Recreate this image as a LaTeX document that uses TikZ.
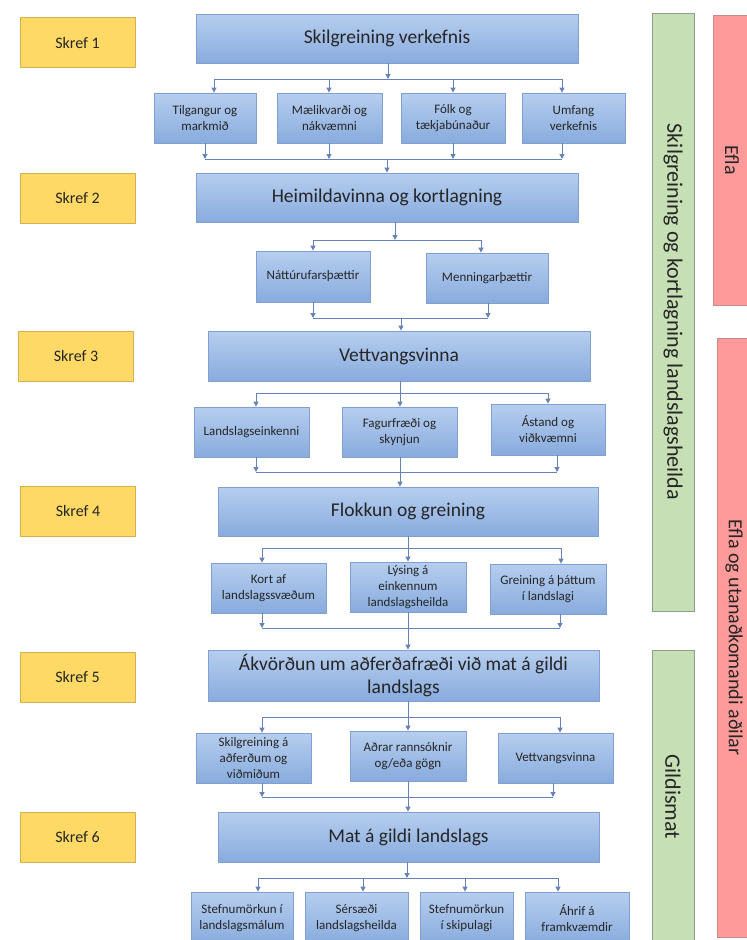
\documentclass[tikz,border=0pt]{standalone}
\usepackage{fontspec}
\setmainfont{Carlito}
\usepackage{xcolor}
\usepackage{tikz}
\usetikzlibrary{arrows.meta, positioning, calc}
\definecolor{skrefgold}{HTML}{FFD966}
\definecolor{skrefedge}{HTML}{D4B04E}
\definecolor{boxtop}{HTML}{B6CEEF}
\definecolor{boxbottom}{HTML}{88ABDD}
\definecolor{boxedge}{HTML}{7FA0D0}
\definecolor{flowblue}{HTML}{6683B8}
\definecolor{phasegreen}{HTML}{C6DFB4}
\definecolor{phaseedge}{HTML}{8F9C90}
\definecolor{partyred}{HTML}{FF9A9A}
\definecolor{partyedge}{HTML}{C48A8A}
\definecolor{inktext}{HTML}{262626}

\begin{document}
\begin{tikzpicture}[
    x=1pt, y=-1pt,
    every node/.style={text=inktext},
    stepbox/.style={
        rectangle,
        draw=skrefedge,
        fill=skrefgold,
        line width=0.8pt,
        minimum width=115pt,
        minimum height=50pt,
        font=\fontsize{16}{19}\selectfont
    },
    mainbox/.style={
        rectangle,
        draw=boxedge,
        top color=boxtop,
        bottom color=boxbottom,
        line width=0.8pt,
        inner sep=2pt,
        align=center,
        font=\fontsize{19.5}{23}\selectfont
    },
    subbox/.style={
        rectangle,
        draw=boxedge,
        top color=boxtop,
        bottom color=boxbottom,
        line width=0.8pt,
        inner sep=2pt,
        align=center,
        font=\fontsize{13}{16}\selectfont
    },
    phasebar/.style={
        rectangle,
        draw=phaseedge,
        fill=phasegreen,
        line width=0.8pt,
        rotate=-90,
        minimum height=42pt,
        font=\fontsize{22}{26}\selectfont
    },
    partybar/.style={
        rectangle,
        draw=partyedge,
        fill=partyred,
        line width=0.8pt,
        rotate=-90,
        font=\fontsize{20}{24}\selectfont
    },
    flow/.style={
        -{Triangle[length=5pt,width=5pt]},
        line width=1pt,
        draw=flowblue
    },
    link/.style={
        line width=1pt,
        draw=flowblue
    }
]

\fill[white] (0,0) rectangle (747,940);
\useasboundingbox (0,0) rectangle (747,940);

% Steps on the left
\node[stepbox] (k1) at (77.5,42.5) {Skref 1};
\node[stepbox] (k2) at (77.5,198) {Skref 2};
\node[stepbox] (k3) at (76,356) {Skref 3};
\node[stepbox] (k4) at (78,511) {Skref 4};
\node[stepbox] (k5) at (77.5,677) {Skref 5};
\node[stepbox] (k6) at (77.5,837) {Skref 6};

% Phase bars on the right
\node[phasebar, minimum width=598pt] (g1) at (673,312) {Skilgreining og kortlagning landslagsheilda};
\node[phasebar, minimum width=294pt] (g2) at (673,797) {Gildismat};
\node[partybar, minimum width=290pt, minimum height=38pt] (r1) at (732,160) {Efla};
\node[partybar, minimum width=599pt, minimum height=34pt] (r2) at (734,637.5) {Efla og utanaðkomandi aðilar};

% Main steps
\node[mainbox, minimum width=382pt, minimum height=49pt] (m1) at (387,38.5) {Skilgreining verkefnis};
\node[mainbox, minimum width=382pt, minimum height=49pt] (m2) at (387,197.5) {Heimildavinna og kortlagning};
\node[mainbox, minimum width=382pt, minimum height=50pt] (m3) at (399,356) {Vettvangsvinna};
\node[mainbox, minimum width=380pt, minimum height=49pt] (m4) at (408,511.5) {Flokkun og greining};
\node[mainbox, minimum width=391pt, minimum height=51pt] (m5) at (403.5,675.5) {Ákvörðun um aðferðafræði við mat á gildi\\landslags};
\node[mainbox, minimum width=381pt, minimum height=50pt] (m6) at (408.5,837) {Mat á gildi landslags};

% Sub boxes, step 1
\node[subbox, minimum width=102pt, minimum height=50pt] (s11) at (205,118) {Tilgangur og\\markmið};
\node[subbox, minimum width=105pt, minimum height=50pt] (s12) at (329.5,118) {Mælikvarði og\\nákvæmni};
\node[subbox, minimum width=104pt, minimum height=50pt] (s13) at (453,118) {Fólk og\\tækjabúnaður};
\node[subbox, minimum width=103pt, minimum height=50pt] (s14) at (573.5,118) {Umfang\\verkefnis};

% Sub boxes, step 2
\node[subbox, minimum width=114pt, minimum height=51pt] (s21) at (313,276.5) {Náttúrufarsþættir};
\node[subbox, minimum width=122pt, minimum height=50pt] (s22) at (487,278) {Menningarþættir};

% Sub boxes, step 3
\node[subbox, minimum width=115pt, minimum height=50pt] (s31) at (251.5,432) {Landslagseinkenni};
\node[subbox, minimum width=115pt, minimum height=50pt] (s32) at (399.5,432) {Fagurfræði og\\skynjun};
\node[subbox, minimum width=114pt, minimum height=51pt] (s33) at (548,429.5) {Ástand og\\viðkvæmni};

% Sub boxes, step 4
\node[subbox, minimum width=115pt, minimum height=50pt] (s41) at (268.5,588) {Kort af\\landslagssvæðum};
\node[subbox, minimum width=116pt, minimum height=50pt] (s42) at (408,587) {Lýsing á\\einkennum\\landslagsheilda};
\node[subbox, minimum width=116pt, minimum height=50pt] (s43) at (548,589) {Greining á þáttum\\í landslagi};

% Sub boxes, step 5
\node[subbox, minimum width=115pt, minimum height=50pt] (s51) at (253.5,758) {Skilgreining á\\aðferðum og\\viðmiðum};
\node[subbox, minimum width=116pt, minimum height=50pt] (s52) at (408,756) {Aðrar rannsóknir\\og/eða gögn};
\node[subbox, minimum width=115pt, minimum height=50pt] (s53) at (555.5,758) {Vettvangsvinna};

% Sub boxes, step 6
\node[subbox, minimum width=102pt, minimum height=52pt] (s61) at (242,918) {Stefnumörkun í\\landslagsmálum};
\node[subbox, minimum width=103pt, minimum height=52pt] (s62) at (356.5,918) {Sérsæði\\landslagsheilda};
\node[subbox, minimum width=93pt, minimum height=52pt] (s63) at (466.5,918) {Stefnumörkun\\í skipulagi};
\node[subbox, minimum width=104pt, minimum height=52pt] (s64) at (577,918) {Áhrif á\\framkvæmdir};

% Step 1: fork and join
\coordinate (f1) at (388,79);
\draw[flow] (m1.south -| f1) -- (f1);
\foreach \b/\x in {s11/214, s12/329, s13/453, s14/562}{
    \coordinate (\b-in) at (\x,79);
    \draw[flow] (\b-in) -- (\b-in |- \b.north);
}
\draw[link] (s11-in) -- (s14-in);
\foreach \b/\x in {s11/205, s12/329, s13/453, s14/562}{
    \coordinate (\b-out) at (\x,159);
    \draw[flow] (\b-out |- \b.south) -- (\b-out);
}
\draw[link] (s11-out) -- (s14-out);
\coordinate (j1) at (387,159);
\draw[flow] (j1) -- (j1 |- m2.north);

% Step 2: fork and join
\coordinate (f2) at (395,240);
\draw[flow] (m2.south -| f2) -- (f2);
\foreach \b/\x in {s21/313, s22/481}{
    \coordinate (\b-in) at (\x,240);
    \draw[flow] (\b-in) -- (\b-in |- \b.north);
}
\draw[link] (s21-in) -- (s22-in);
\foreach \b/\x in {s21/313, s22/488}{
    \coordinate (\b-out) at (\x,318);
    \draw[flow] (\b-out |- \b.south) -- (\b-out);
}
\draw[link] (s21-out) -- (s22-out);
\coordinate (j2) at (401,318);
\draw[flow] (j2) -- (j2 |- m3.north);

% Step 3: fork and join
\coordinate (f3) at (400,393);
\draw[link] (m3.south -| f3) -- (f3);
\foreach \b/\x in {s31/256, s32/400, s33/548}{
    \coordinate (\b-in) at (\x,393);
    \draw[flow] (\b-in) -- (\b-in |- \b.north);
}
\draw[link] (s31-in) -- (s33-in);
\foreach \b/\x/\s in {s31/256/flow, s32/400/link, s33/557/flow}{
    \coordinate (\b-out) at (\x,472);
    \draw[\s] (\b-out |- \b.south) -- (\b-out);
}
\draw[link] (s31-out) -- (s33-out);
\coordinate (j3) at (400,472);
\draw[flow] (j3) -- (j3 |- m4.north);

% Step 4: fork and join
\coordinate (f4) at (408,548);
\draw[link] (m4.south -| f4) -- (f4);
\foreach \b/\x in {s41/262, s42/408, s43/561}{
    \coordinate (\b-in) at (\x,548);
    \draw[flow] (\b-in) -- (\b-in |- \b.north);
}
\draw[link] (s41-in) -- (s43-in);
\foreach \b/\x/\s in {s41/262/flow, s42/408/link, s43/560/flow}{
    \coordinate (\b-out) at (\x,628);
    \draw[\s] (\b-out |- \b.south) -- (\b-out);
}
\draw[link] (s41-out) -- (s43-out);
\coordinate (j4) at (408,628);
\draw[flow] (j4) -- (j4 |- m5.north);

% Step 5: fork and join
\coordinate (f5) at (408,717);
\draw[link] (m5.south -| f5) -- (f5);
\foreach \b/\x in {s51/262, s52/408, s53/560}{
    \coordinate (\b-in) at (\x,717);
    \draw[flow] (\b-in) -- (\b-in |- \b.north);
}
\draw[link] (s51-in) -- (s53-in);
\foreach \b/\x/\s in {s51/262/flow, s52/408/link, s53/553/flow}{
    \coordinate (\b-out) at (\x,797);
    \draw[\s] (\b-out |- \b.south) -- (\b-out);
}
\draw[link] (s51-out) -- (s53-out);
\coordinate (j5) at (408,797);
\draw[flow] (j5) -- (j5 |- m6.north);

% Step 6: fork
\coordinate (f6) at (407,878);
\draw[flow] (m6.south -| f6) -- (f6);
\foreach \b/\x in {s61/258, s62/363, s63/465, s64/558}{
    \coordinate (\b-in) at (\x,878);
    \draw[flow] (\b-in) -- (\b-in |- \b.north);
}
\draw[link] (s61-in) -- (s64-in);

\end{tikzpicture}
\end{document}
